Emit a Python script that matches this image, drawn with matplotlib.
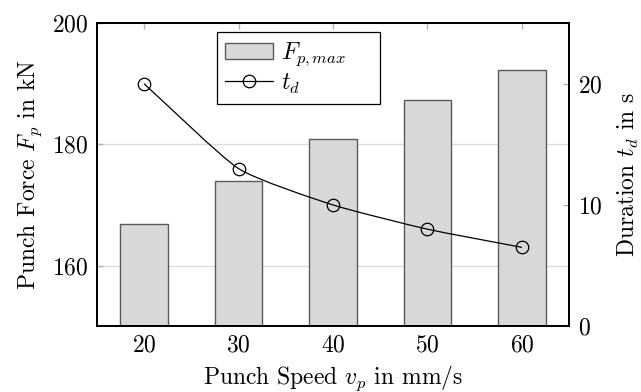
"""Punch force (bars) and duration (line) over punch speed."""

import matplotlib

matplotlib.use("Agg")
import matplotlib.pyplot as plt
import numpy as np
from matplotlib.patches import PathPatch
from matplotlib.path import Path

plt.rcParams["font.family"] = ["cmr10", "DejaVu Serif"]
plt.rcParams["mathtext.fontset"] = "cm"
plt.rcParams["axes.formatter.use_mathtext"] = True
plt.rcParams["font.size"] = 17

# data
speeds = [20, 30, 40, 50, 60]
force_max = [166.8, 174.0, 180.8, 187.3, 192.3]
duration = [20.0, 13.0, 10.0, 8.0, 6.5]


def smooth_path(x, y, tension=0.55):
    """Cubic Bezier path through the points, similar to TikZ 'smooth'."""
    pts = np.column_stack([x, y]).astype(float)
    n = len(pts)
    tang = np.zeros_like(pts)
    for i in range(n):
        a = pts[max(i - 1, 0)]
        b = pts[min(i + 1, n - 1)]
        tang[i] = (b - a) / (2 if 0 < i < n - 1 else 1)
    k = tension / 3.0
    verts = [pts[0]]
    codes = [Path.MOVETO]
    for i in range(n - 1):
        verts += [pts[i] + k * tang[i], pts[i + 1] - k * tang[i + 1], pts[i + 1]]
        codes += [Path.CURVE4] * 3
    return Path(verts, codes)


fig = plt.figure(figsize=(6.41, 3.92), dpi=100)
ax = fig.add_axes([0.151, 0.168, 0.737, 0.773])
ax2 = ax.twinx()

tick_gray = "#b4b4b4"

ax.yaxis.grid(True, color="#dcdcdc", linewidth=1.0)
ax.set_axisbelow(True)
bars = ax.bar(speeds, force_max, width=5, bottom=0, color="#d9d9d9",
              edgecolor="#5a5a5a", linewidth=1.0, zorder=2)
ax.set_xlim(15, 65)
ax.set_ylim(150, 200)
ax.set_xticks(speeds)
ax.set_yticks([160, 180, 200])
ax.tick_params(direction="in", color=tick_gray, length=4, width=1,
               top=True, right=False, pad=6)
ax.set_xlabel(r"Punch Speed $v_p$ in mm/s", labelpad=5)
ax.set_ylabel(r"Punch Force $F_p$ in kN", labelpad=6)

ax2.add_patch(PathPatch(smooth_path(speeds, duration), facecolor="none",
                        edgecolor="black", linewidth=0.9, zorder=3))
ax2.plot(speeds, duration, linestyle="none", marker="o",
         markersize=9, markerfacecolor="none", markeredgecolor="black",
         markeredgewidth=0.9, zorder=4)
ax2.set_ylim(0, 25)
ax2.set_yticks([0, 10, 20])
ax2.tick_params(direction="in", color=tick_gray, length=4, width=1, pad=6)
ax2.set_ylabel(r"Duration $t_d$ in s", labelpad=10)

for a in (ax, ax2):
    for s in a.spines.values():
        s.set_linewidth(1.3)
        s.set_color("black")

proxy_line, = ax2.plot([], [], color="black", linewidth=0.9, marker="o",
                       markersize=9, markerfacecolor="none",
                       markeredgewidth=0.9)
leg = ax2.legend([bars, proxy_line], [r"$F_{p,max}$", r"$t_d$"],
                 loc="upper left", bbox_to_anchor=(0.254, 0.733, 0.345, 0.237),
                 mode="expand", borderaxespad=0, fancybox=False, framealpha=1,
                 edgecolor="black", handlelength=2.05, handleheight=0.7,
                 borderpad=0.35, labelspacing=0.15, handletextpad=0.3)
leg.get_frame().set_linewidth(0.9)

fig.savefig("out.png", dpi=100)
